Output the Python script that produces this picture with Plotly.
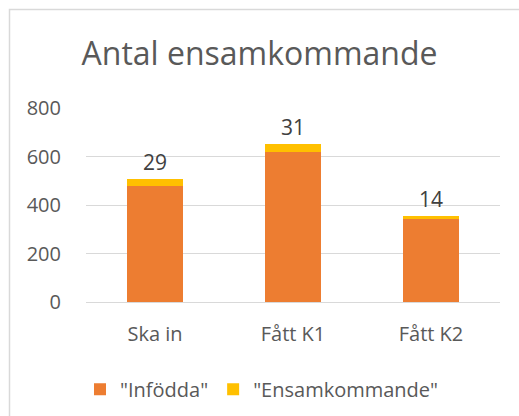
import plotly.graph_objects as go

categories = ["Ska in", "Fått K1", "Fått K2"]
infodda = [478, 620, 341]
ensamkommande = [29, 31, 14]
series_names = ['"Infödda"', '"Ensamkommande"']
y_ticks = [0, 200, 400, 600, 800]

FONT = "Open Sans"
GREY = "#595959"

fig = go.Figure()
fig.add_trace(go.Bar(x=categories, y=infodda, name=series_names[0],
                     marker=dict(color="#ED7D31", line=dict(width=0))))
fig.add_trace(go.Bar(x=categories, y=ensamkommande, name=series_names[1],
                     marker=dict(color="#FFC000", line=dict(width=0)),
                     text=[str(v) for v in ensamkommande], textposition="outside",
                     textfont=dict(family=FONT, size=21, color="#404040"),
                     cliponaxis=False))

fig.update_layout(
    width=519, height=416,
    barmode="stack", bargap=0.6,
    paper_bgcolor="white", plot_bgcolor="white",
    margin=dict(l=86, r=19, t=108, b=114, autoexpand=False),
    font=dict(family=FONT, color=GREY, size=20),
    title=dict(text="Antal ensamkommande", x=0.5, xanchor="center",
               y=1 - 54/416, yanchor="middle",
               font=dict(family=FONT, size=32, color=GREY)),
    showlegend=True,
    legend=dict(orientation="h", x=(80-86)/414, xanchor="left", y=-0.45, yanchor="middle",
                font=dict(family=FONT, size=20, color=GREY), traceorder="normal",
                itemwidth=30),
    shapes=[dict(type="rect", xref="paper", yref="paper",
                 x0=(9.5-86)/414, x1=1.2, y0=-0.7, y1=(302-9.5)/194,
                 line=dict(color="#D9D9D9", width=1.5), fillcolor="rgba(0,0,0,0)",
                 layer="below")],
)
fig.update_yaxes(range=[0, 800], tickvals=y_ticks, showgrid=True, gridcolor="#D9D9D9",
                 gridwidth=1, zeroline=False, showline=False, automargin=False,
                 ticks="outside", ticklen=20, tickcolor="rgba(0,0,0,0)",
                 tickfont=dict(family=FONT, size=20, color=GREY))
fig.update_xaxes(showline=True, linecolor="#D9D9D9", linewidth=1, ticks="outside",
                 ticklen=14, tickcolor="rgba(0,0,0,0)", automargin=False,
                 tickfont=dict(family=FONT, size=20, color=GREY))

fig.write_html("out.html", config={"displayModeBar": False},
               post_script="document.body.style.margin='0';document.body.style.overflow='hidden';")
